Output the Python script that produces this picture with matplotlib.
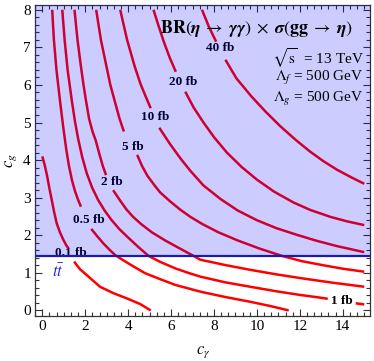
import numpy as np
import matplotlib
matplotlib.use("Agg")
import matplotlib.pyplot as plt
from matplotlib.ticker import MultipleLocator, AutoMinorLocator

plt.rcParams['font.family'] = ['Liberation Serif', 'DejaVu Serif']
plt.rcParams['mathtext.fontset'] = 'stix'

nan = np.nan

# contour lines (c_gamma, c_g); nan = gap for the label
c01_x = [0.0, 0.12, 0.23, 0.33, 0.44, 0.55, 0.67, 0.82, 0.98, 1.12, 1.22, nan,
         1.48, 1.75, 2.07, 2.69, 3.31, 3.94, 4.56, 5.05]
c01_y = [4.10, 3.85, 3.56, 3.25, 2.94, 2.62, 2.32, 2.08, 1.88, 1.73, 1.65, nan,
         1.30, 1.10, 0.94, 0.63, 0.46, 0.32, 0.17, 0.0]

c05_x = [0.46, 0.54, 0.66, 0.82, 0.97, 1.12, 1.24, 1.38, 1.52, 1.67, 1.80, nan,
         2.28, 2.55, 2.85, 3.14, 3.42, 4.10, 4.79, 5.50, 6.19, 7.36, 8.50, 9.69, 10.6, 11.48]
c05_y = [8.0, 7.2, 6.4, 5.6, 4.9, 4.27, 3.85, 3.47, 3.18, 2.94, 2.76, nan,
         2.17, 1.98, 1.78, 1.61, 1.46, 1.22, 0.99, 0.83, 0.68, 0.50, 0.36, 0.23, 0.12, 0.0]

c1_x = [0.93, 1.04, 1.18, 1.37, 1.53, 1.68, 1.86, 2.07, 2.32, 2.60, 2.90, 3.22, 3.58,
        3.96, 4.45, 4.95, 5.50, 6.19, 6.80, 7.36, 8.50, 9.69, 10.9, 12.03, 12.7, 13.3, nan,
        14.6, 15.0]
c1_y = [8.0, 7.2, 6.4, 5.6, 5.0, 4.54, 4.08, 3.65, 3.27, 2.94, 2.66, 2.41, 2.17,
        1.96, 1.70, 1.45, 1.29, 1.12, 1.0, 0.90, 0.75, 0.63, 0.51, 0.41, 0.36, 0.31, nan,
        0.19, 0.16]

c2_x = [1.50, 1.64, 1.80, 1.92, 2.03, 2.18, 2.34, 2.49, 2.67, 2.82, 2.97, nan,
        3.30, 3.63, 3.93, 4.23, 4.60, 5.10, 5.70, 6.40, 7.05, 7.36, 8.50, 9.69, 10.9, 12.03, 13.5, 15.0]
c2_y = [8.0, 7.2, 6.49, 6.0, 5.6, 5.1, 4.76, 4.52, 4.14, 3.84, 3.60, nan,
        3.20, 2.92, 2.68, 2.49, 2.30, 2.08, 1.87, 1.65, 1.45, 1.35, 1.21, 1.08, 0.96, 0.86, 0.74, 0.63]

c5_x = [2.51, 2.73, 2.99, 3.17, 3.36, 3.60, 3.80, nan,
        4.42, 4.65, 4.90, 5.20, 5.49, 5.96, 6.43, 6.90, 7.45, 8.20, 9.07, 10.1, 11.17,
        12.1, 13.11, 14.0, 15.0]
c5_y = [8.0, 7.2, 6.49, 6.0, 5.6, 5.1, 4.76, nan,
        4.14, 3.84, 3.58, 3.35, 3.14, 2.90, 2.68, 2.49, 2.30, 2.08, 1.87, 1.65, 1.45,
        1.31, 1.20, 1.11, 1.03]

c10_x = [3.63, 3.95, 4.30, 4.58, 4.87, 5.05, nan,
         5.45, 5.96, 6.43, 6.89, 7.50, 8.29, 9.10, 10.0, 10.9, 11.87, 12.8, 13.74, 15.0]
c10_y = [8.0, 7.2, 6.5, 6.02, 5.62, 5.38, nan,
         4.86, 4.42, 4.05, 3.72, 3.33, 2.97, 2.66, 2.40, 2.19, 2.01, 1.85, 1.71, 1.55]

c20_x = [5.18, 5.40, 5.66, 5.94, 6.22, nan,
         6.66, 7.05, 7.51, 8.00, 8.60, 9.30, 10.0, 10.8, 11.71, 12.5, 13.42, 14.2, 15.0]
c20_y = [8.0, 7.6, 7.15, 6.72, 6.35, nan,
         5.82, 5.40, 5.00, 4.61, 4.20, 3.81, 3.48, 3.16, 2.87, 2.67, 2.49, 2.37, 2.27]

c40_x = [7.44, 7.76, 8.10, nan,
         8.53, 9.05, 9.75, 10.4, 11.09, 11.8, 12.49, 13.1, 13.74, 14.4, 15.0]
c40_y = [8.0, 7.55, 7.15, nan,
         6.67, 6.17, 5.69, 5.29, 4.90, 4.54, 4.22, 3.97, 3.74, 3.54, 3.37]

contours_x = [c01_x, c05_x, c1_x, c2_x, c5_x, c10_x, c20_x, c40_x]
contours_y = [c01_y, c05_y, c1_y, c2_y, c5_y, c10_y, c20_y, c40_y]

label_text = ["0.1 fb", "0.5 fb", "1 fb", "2 fb", "5 fb", "10 fb", "20 fb", "40 fb"]
label_x = [1.32, 2.15, 13.97, 3.24, 4.21, 5.26, 6.54, 8.29]
label_y = [1.53, 2.41, 0.25, 3.41, 4.35, 5.15, 6.07, 6.97]

tt_bound = 1.45  # c_g limit from t tbar

fig = plt.figure(figsize=(3.74, 3.61), dpi=100)
ax = fig.add_axes([0.0936, 0.1255, 0.897, 0.861])

for xs, ys in zip(contours_x, contours_y):
    ax.plot(xs, ys, color='#ff0000', lw=1.8, zorder=2, solid_capstyle='butt')

for t, x, y in zip(label_text, label_x, label_y):
    ax.text(x, y, t, fontsize=9.5, fontweight='bold', color='black',
            ha='center', va='center', zorder=1.5)

ax.set_xlim(-0.34, 15.29)
ax.set_ylim(-0.14, 8.13)

ax.axhspan(tt_bound, 8.13, color='#0000ff', alpha=0.2, lw=0, zorder=3)
ax.axhline(tt_bound, color='#1c1caa', lw=1.6, zorder=4)

ax.text(0.71, 1.01, r'$t\bar{t}$', color='#2a2acc', fontsize=12,
        ha='center', va='center', zorder=5)

ax.text(14.45, 7.49,
        r'$\mathbf{BR}(\mathbfit{\eta}\;\rightarrow\;\mathbfit{\gamma\gamma})\;\times\;'
        r'\mathbfit{\sigma}(\mathbf{gg}\;\rightarrow\;\mathbfit{\eta})$',
        fontsize=13, ha='right', va='center', zorder=5)
ax.text(14.97, 6.72, r'$\sqrt{\mathrm{s}}$  = 13 TeV', fontsize=11, ha='right', va='center', zorder=5)
ax.text(14.97, 6.19, r'$\Lambda_f$ = 500 GeV', fontsize=11, ha='right', va='center', zorder=5)
ax.text(14.97, 5.63, r'$\Lambda_g$ = 500 GeV', fontsize=11, ha='right', va='center', zorder=5)

ax.xaxis.set_major_locator(MultipleLocator(2))
ax.xaxis.set_minor_locator(AutoMinorLocator(6))
ax.yaxis.set_major_locator(MultipleLocator(1))
ax.yaxis.set_minor_locator(AutoMinorLocator(5))
ax.tick_params(which='both', direction='in', top=True, right=True, labelsize=11,
               color='#333333', width=0.8)
ax.tick_params(which='major', length=5, pad=3)
ax.tick_params(which='minor', length=3)
for s in ax.spines.values():
    s.set_color('#333333')
    s.set_linewidth(0.9)

ax.set_xlabel(r'$c_\gamma$', fontsize=12, labelpad=8)
ax.set_ylabel(r'$c_g$', fontsize=12, labelpad=3)

fig.savefig("out.png", dpi=100)
